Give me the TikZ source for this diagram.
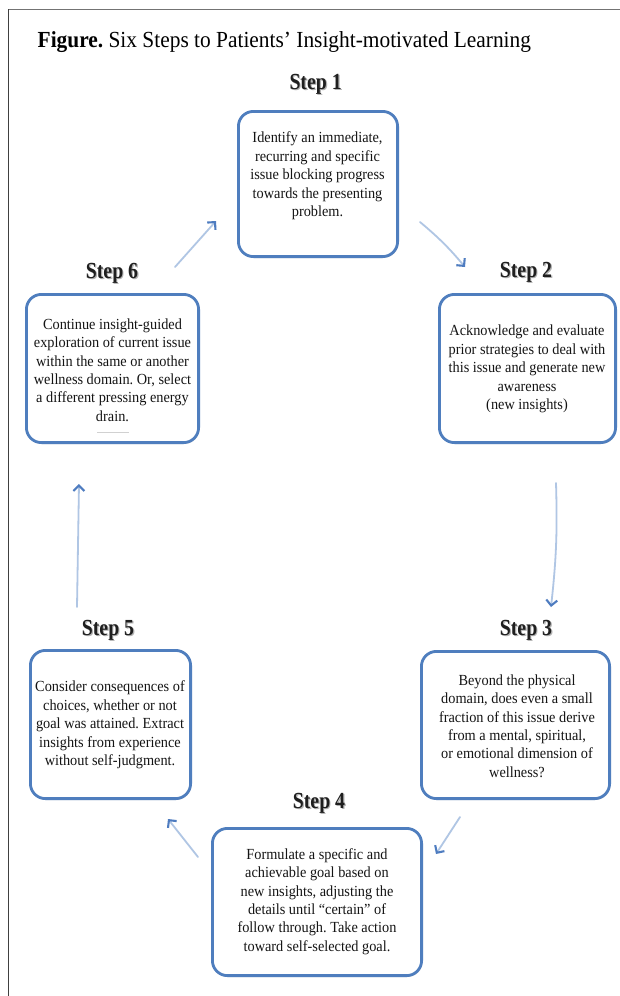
\documentclass[tikz,border=0pt]{standalone}
\usepackage{fontspec}
\setmainfont{Liberation Serif}
\newfontfamily\boxfont[FakeStretch=0.93]{Liberation Serif}
\newfontfamily\labelfont[FakeStretch=0.86]{Liberation Serif}
\newfontfamily\titlefont[FakeStretch=0.93]{Liberation Serif}
\usetikzlibrary{arrows.meta,shadows}
\definecolor{boxblue}{RGB}{79,126,190}
\definecolor{arrline}{RGB}{176,198,228}
\definecolor{tipblue}{RGB}{78,124,192}
\definecolor{framegray}{RGB}{115,115,115}
\frenchspacing
\begin{document}
\begin{tikzpicture}[x=1pt,y=-1pt,
  stepbox/.style={draw=boxblue, line width=2.8pt, rounded corners=15pt, fill=white,
    drop shadow={shadow xshift=0.8pt, shadow yshift=-1.4pt, fill=black!28}, inner sep=0pt},
  boxtext/.style={font=\boxfont\fontsize{15.4}{18.4}\selectfont, align=center, inner sep=0pt, text=black!92},
  steplabel/.style={font=\labelfont\fontsize{23}{26}\selectfont\bfseries, inner sep=0pt, anchor=base, text=black!88},
  stepshadow/.style={steplabel, text=black!30},
  conn/.style={draw=arrline, line width=1.8pt, line cap=round,
    -{Straight Barb[length=5.5pt,width=11pt,line width=2.1pt,color=tipblue]}}
]
\useasboundingbox (0,0) rectangle (620,996);
\fill[white] (0,0) rectangle (620,996);
% frame
\draw[framegray, line width=1.6pt] (8,9.5) -- (620,9.5);
\draw[black!75, line width=1pt] (8.5,9) -- (8.5,996);
% title
\node[anchor=base west, font=\titlefont\fontsize{23}{26}\selectfont, inner sep=0pt] (title) at (37.5,47)
  {\textbf{Figure.} Six Steps to Patients’ Insight-motivated Learning};

% step labels
\node[stepshadow] (l1s) at (316.8,90.2) {Step 1};
\node[steplabel]  (l1)  at (315.6,89) {Step 1};
\node[stepshadow] (l2s) at (527.2,278.2) {Step 2};
\node[steplabel]  (l2)  at (526,277) {Step 2};
\node[stepshadow] (l3s) at (527.2,636.2) {Step 3};
\node[steplabel]  (l3)  at (526,635) {Step 3};
\node[stepshadow] (l4s) at (320.2,809.2) {Step 4};
\node[steplabel]  (l4)  at (319,808) {Step 4};
\node[stepshadow] (l5s) at (109.2,636.2) {Step 5};
\node[steplabel]  (l5)  at (108,635) {Step 5};
\node[stepshadow] (l6s) at (113.2,279.2) {Step 6};
\node[steplabel]  (l6)  at (112,278) {Step 6};

% boxes
\node[stepbox, minimum width=159.2pt, minimum height=145.2pt] (b1) at (318,184) {};
\node[stepbox, minimum width=176.2pt, minimum height=148.2pt] (b2) at (527.5,368.5) {};
\node[stepbox, minimum width=188.2pt, minimum height=147.2pt] (b3) at (515.5,725) {};
\node[stepbox, minimum width=209.2pt, minimum height=147.2pt] (b4) at (317,902) {};
\node[stepbox, minimum width=160.2pt, minimum height=148.2pt] (b5) at (110.5,724.5) {};
\node[stepbox, minimum width=172.2pt, minimum height=148.2pt] (b6) at (112.5,368.5) {};

% box texts
\node[boxtext] (t1) at (317.5,176) {Identify an immediate,\\ recurring and specific\\ issue blocking progress\\ towards the presenting\\ problem.};
\node[boxtext] (t2) at (527,369) {Acknowledge and evaluate\\ prior strategies to deal with\\ this issue and generate new\\ awareness\\ (new insights)};
\node[boxtext] (t3) at (517,726) {Beyond the physical\\ domain, does even a small\\ fraction of this issue derive\\ from a mental, spiritual,\\ or emotional dimension of\\ wellness?};
\node[boxtext] (t4) at (317,901.5) {Formulate a specific and\\ achievable goal based on\\ new insights, adjusting the\\ details until “certain” of\\ follow through. Take action\\ toward self-selected goal.};
\node[boxtext] (t5) at (110,725) {Consider consequences of\\ choices, whether or not\\ goal was attained. Extract\\ insights from experience\\ without self-judgment.};
\node[boxtext] (t6) at (112.5,370) {Continue insight-guided\\ exploration of current issue\\ within the same or another\\ wellness domain. Or, select\\ a different pressing energy\\ drain.};
\draw[black!18, line width=0.8pt] (97,432) -- (129,432);

% connectors
\coordinate (a12s) at (420,222);
\coordinate (a12e) at (465,267);
\coordinate (a23s) at (556,483);
\coordinate (a23e) at (551,607);
\coordinate (a34s) at (460,817);
\coordinate (a34e) at (436,854);
\coordinate (a45s) at (198,857);
\coordinate (a45e) at (168,819);
\coordinate (a56s) at (77,607);
\coordinate (a56e) at (79,484);
\coordinate (a61s) at (175,267);
\coordinate (a61e) at (216,221);

\draw[conn] (a12s) to[bend left=5] (a12e);
\draw[conn] (a23s) to[bend left=4] (a23e);
\draw[conn] (a34s) -- (a34e);
\draw[conn] (a45s) -- (a45e);
\draw[conn] (a56s) -- (a56e);
\draw[conn] (a61s) -- (a61e);
\end{tikzpicture}
\end{document}
